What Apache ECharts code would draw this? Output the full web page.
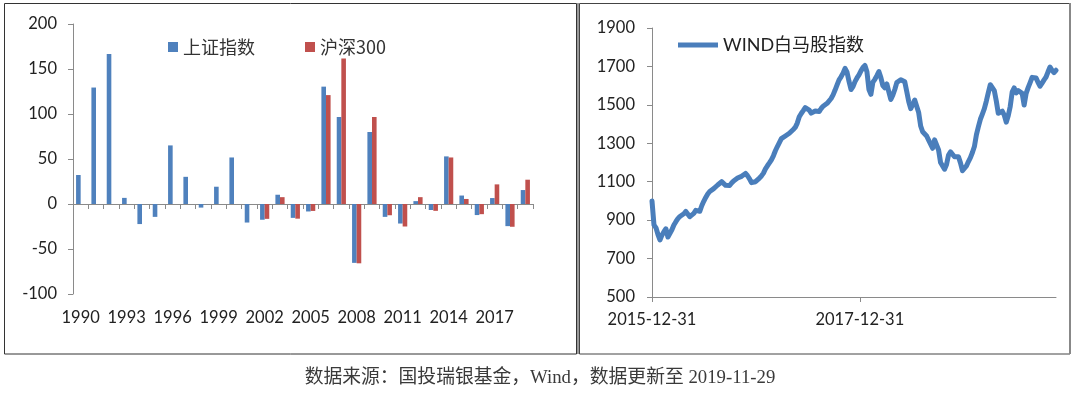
<!DOCTYPE html>
<html>
<head>
<meta charset="utf-8">
<script src="https://cdn.jsdelivr.net/npm/echarts@6/dist/echarts.min.js"></script>
<style>
html,body{margin:0;padding:0;background:#fff;}
#c{width:1080px;height:395px;}
</style>
</head>
<body>
<div id="c"></div>
<script>
// ---- Left panel data: annual returns (%) ----
const years = ['1990','1991','1992','1993','1994','1995','1996','1997','1998','1999','2000','2001','2002','2003','2004','2005','2006','2007','2008','2009','2010','2011','2012','2013','2014','2015','2016','2017','2018','2019'];
const shIndex = [32.2, 129.4, 166.6, 6.8, -22.3, -14.3, 65.1, 30.2, -4.0, 19.2, 51.7, -20.6, -17.5, 10.3, -15.4, -8.3, 130.4, 96.7, -65.4, 80.0, -14.3, -21.7, 3.2, -6.7, 52.9, 9.4, -12.3, 6.6, -24.6, 15.5];
const csi300 = [null, null, null, null, null, null, null, null, null, null, null, null, -16.5, 7.6, -16.3, -7.7, 121.0, 161.6, -65.9, 96.7, -12.5, -25.0, 7.6, -7.6, 51.7, 5.6, -11.3, 21.8, -25.3, 27.0];
const leftSeriesNames = ['上证指数', '沪深300'];

// ---- Right panel data: WIND white-horse index, weekly from 2015-12-31 ----
const wbStartDate = '2015-12-31';
const wbStepDays = 7;
const wbValues = [
1000, 875, 860, 825, 797, 822, 840, 855, 812, 818,
850, 875, 892, 908, 919, 924, 933, 945, 942, 918,
924, 935, 951, 948, 946, 975, 998, 1018, 1036, 1049,
1058, 1064, 1073, 1083, 1091, 1100, 1090, 1081, 1073, 1080,
1093, 1104, 1112, 1119, 1123, 1128, 1136, 1143, 1131, 1115,
1095, 1097, 1100, 1109, 1119, 1130, 1145, 1167, 1183, 1198,
1214, 1235, 1261, 1283, 1303, 1324, 1332, 1338, 1345, 1352,
1362, 1372, 1383, 1405, 1438, 1455, 1470, 1486, 1485, 1473,
1457, 1452, 1468, 1470, 1465, 1481, 1493, 1500, 1508, 1517,
1533, 1552, 1577, 1604, 1630, 1646, 1665, 1690, 1670, 1622,
1580, 1595, 1621, 1640, 1656, 1677, 1694, 1705, 1672, 1580,
1555, 1618, 1633, 1652, 1673, 1642, 1600, 1588, 1609, 1568,
1528, 1550, 1580, 1616, 1626, 1631, 1637, 1620, 1570, 1517,
1480, 1470, 1525, 1518, 1460, 1390, 1360, 1355, 1338, 1317,
1296, 1274, 1318, 1310, 1265, 1200, 1208, 1165, 1190, 1239,
1255, 1262, 1230, 1225, 1230, 1198, 1157, 1150, 1182, 1205,
1225, 1252, 1283, 1344, 1386, 1425, 1452, 1480, 1520, 1564,
1605, 1612, 1574, 1520, 1456, 1466, 1467, 1447, 1410, 1443,
1492, 1568, 1588, 1562, 1574, 1572, 1560, 1499, 1560, 1590,
1616, 1643, 1650, 1640, 1616, 1597, 1613, 1630, 1645, 1672,
1697, 1680, 1668, 1680
];
const wbName = 'WIND白马股指数';
const rightYTicks = [500, 700, 900, 1100, 1300, 1500, 1700, 1900];
const rightXTickDays = [0, 731];
const rightXTickLabels = ['2015-12-31', '2017-12-31'];
const sourceText = '数据来源：国投瑞银基金，Wind，数据更新至 2019-11-29';

const wbData = wbValues.map((v, i) => [i * wbStepDays, v]);

const axisColor = '#8a8a8a';
const labelFont = { color: '#222', fontSize: 16.5, fontFamily: 'Lato, "Liberation Sans", sans-serif' };

const chart = echarts.init(document.getElementById('c'), null, { renderer: 'canvas' });
chart.setOption({
  animation: false,
  backgroundColor: '#fff',
  grid: [
    { left: 73, top: 24, width: 460, height: 270 },
    { left: 652, top: 28, width: 404, height: 269 }
  ],
  legend: [
    {
      data: leftSeriesNames,
      left: 163, top: 33,
      icon: 'rect', itemWidth: 10, itemHeight: 10, itemGap: 50,
      textStyle: { fontSize: 18, color: '#333', fontFamily: '"Noto Sans CJK SC", sans-serif' }
    },
    {
      data: [wbName],
      left: 673, top: 31,
      icon: 'rect', itemWidth: 40, itemHeight: 5,
      textStyle: { fontSize: 18, color: '#222', fontFamily: 'Lato, "Noto Sans CJK SC", sans-serif' }
    }
  ],
  xAxis: [
    {
      type: 'category', gridIndex: 0, data: years,
      axisLine: { onZero: true, lineStyle: { color: axisColor, width: 1 } },
      axisTick: { show: true, interval: 0, length: 5, lineStyle: { color: axisColor } },
      axisLabel: { show: false },
      splitLine: { show: false }
    },
    {
      type: 'category', gridIndex: 0, data: years, position: 'bottom',
      axisLine: { show: false, onZero: false },
      axisTick: { show: false },
      axisLabel: Object.assign({ interval: 2, margin: 15 }, labelFont),
      splitLine: { show: false }
    },
    {
      type: 'value', gridIndex: 1, min: 0, max: (wbValues.length - 1) * wbStepDays,
      axisLine: { onZero: false, lineStyle: { color: axisColor, width: 1 } },
      axisTick: { show: true, length: 5, customValues: rightXTickDays, lineStyle: { color: axisColor } },
      axisLabel: Object.assign({
        margin: 14,
        customValues: rightXTickDays,
        formatter: function (v) {
          const i = rightXTickDays.indexOf(v);
          return i >= 0 ? rightXTickLabels[i] : '';
        }
      }, labelFont),
      splitLine: { show: false }
    }
  ],
  yAxis: [
    {
      type: 'value', gridIndex: 0, min: -100, max: 200, interval: 50,
      axisLine: { show: true, lineStyle: { color: axisColor, width: 1 } },
      axisTick: { show: true, length: 5, lineStyle: { color: axisColor } },
      axisLabel: Object.assign({ margin: 16 }, labelFont),
      splitLine: { show: false }
    },
    {
      type: 'value', gridIndex: 1, min: 500, max: 1900,
      axisLine: { show: true, lineStyle: { color: axisColor, width: 1 } },
      axisTick: { show: true, length: 5, customValues: rightYTicks, lineStyle: { color: axisColor } },
      axisLabel: Object.assign({ margin: 17, customValues: rightYTicks, formatter: function (v) { return String(v); } }, labelFont),
      splitLine: { show: false }
    }
  ],
  series: [
    {
      name: leftSeriesNames[0], type: 'bar', xAxisIndex: 0, yAxisIndex: 0,
      data: shIndex, barWidth: 4.6, barGap: '0%',
      itemStyle: { color: '#4F81BD' }
    },
    {
      name: leftSeriesNames[1], type: 'bar', xAxisIndex: 0, yAxisIndex: 0,
      data: csi300, barWidth: 4.6, barGap: '0%',
      itemStyle: { color: '#C0504D' }
    },
    {
      name: wbName, type: 'line', xAxisIndex: 2, yAxisIndex: 1,
      data: wbData, showSymbol: false, symbol: 'none',
      lineStyle: { color: '#4A7EBB', width: 5, join: 'round', cap: 'round' },
      itemStyle: { color: '#4A7EBB' }
    }
  ],
  graphic: [
    { type: 'rect', shape: { x: 4.5, y: 3.5, width: 572, height: 350.5 }, style: { fill: 'none', stroke: '#333', lineWidth: 1 }, silent: true },
    { type: 'rect', shape: { x: 579.5, y: 3.5, width: 490.5, height: 350.5 }, style: { fill: 'none', stroke: '#444', lineWidth: 1 }, silent: true },
    { type: 'line', shape: { x1: 578, y1: 3, x2: 578, y2: 354 }, style: { stroke: '#9a9a9a', lineWidth: 2 }, silent: true },
    { type: 'line', shape: { x1: 1070, y1: 3, x2: 1070, y2: 354 }, style: { stroke: '#888', lineWidth: 2 }, silent: true },
    {
      type: 'text', left: 'center', top: 369,
      style: { text: sourceText, fill: '#3a3a3a', fontSize: 18.8, fontFamily: '"Liberation Serif", "Noto Sans CJK SC", serif' },
      silent: true
    }
  ]
});
</script>
</body>
</html>
